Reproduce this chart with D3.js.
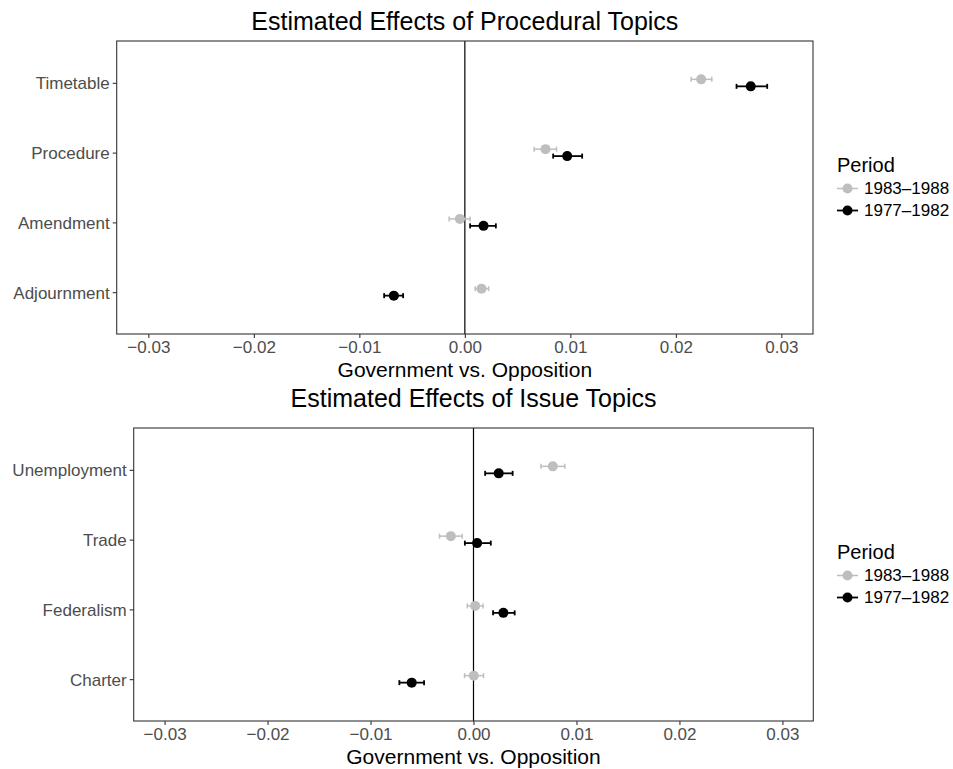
<!DOCTYPE html>
<html>
<head>
<meta charset="utf-8">
<script src="https://cdn.jsdelivr.net/npm/d3@7"></script>
<style>
  body { margin: 0; background: #fff; }
  svg { font-family: "Liberation Sans", Arial, Helvetica, sans-serif; }
</style>
</head>
<body>
<svg id="chart" width="953" height="769"></svg>
<script>
var periods = ["1983\u20131988", "1977\u20131982"];
var periodColors = ["#bebebe", "#000000"];

var procTopics = ["Timetable", "Procedure", "Amendment", "Adjournment"];
var proc1983Est = [0.0224, 0.00765, -0.00047, 0.00158];
var proc1983Lo  = [0.02145, 0.00657, -0.00149, 0.00098];
var proc1983Hi  = [0.02341, 0.00869, 0.0005, 0.00225];
var proc1977Est = [0.0271, 0.0097, 0.00177, -0.00673];
var proc1977Lo  = [0.02575, 0.00837, 0.0005, -0.00765];
var proc1977Hi  = [0.02866, 0.01112, 0.00294, -0.00585];

var issueTopics = ["Unemployment", "Trade", "Federalism", "Charter"];
var issue1983Est = [0.0077, -0.0022, 0.00016, 0.00003];
var issue1983Lo  = [0.00655, -0.0033, -0.0006, -0.00087];
var issue1983Hi  = [0.00887, -0.0011, 0.00093, 0.00097];
var issue1977Est = [0.00245, 0.00035, 0.0029, -0.006];
var issue1977Lo  = [0.00113, -0.00084, 0.0019, -0.0072];
var issue1977Hi  = [0.0038, 0.00168, 0.004, -0.0048];

var xTicks = [-0.03, -0.02, -0.01, 0, 0.01, 0.02, 0.03];
var xDomain = [-0.033, 0.033];

var svg = d3.select("#chart");

function buildRows(topics, est83, lo83, hi83, est77, lo77, hi77) {
    var rows = [];
    topics.forEach(function(t, i) {
        rows.push({ topic: t, period: 0, est: est83[i], lo: lo83[i], hi: hi83[i] });
        rows.push({ topic: t, period: 1, est: est77[i], lo: lo77[i], hi: hi77[i] });
    });
    return rows;
}

function drawPanel(opt) {
    var x = d3.scaleLinear().domain(xDomain).range([opt.left, opt.right]);
    var y = d3.scalePoint().domain(opt.topics).range([opt.top, opt.bottom]).padding(0.6);
    var dodge = y.step() * 0.05;
    var g = svg.append("g");

    // title
    g.append("text")
        .attr("x", (opt.left + opt.right) / 2)
        .attr("y", opt.titleY)
        .attr("text-anchor", "middle")
        .style("font-size", "25px")
        .attr("fill", "#000")
        .text(opt.title);

    // zero line
    g.append("line")
        .attr("x1", x(0)).attr("x2", x(0))
        .attr("y1", opt.top).attr("y2", opt.bottom)
        .attr("stroke", "#000")
        .attr("stroke-width", 1.2);

    var rows = buildRows(opt.topics, opt.e83, opt.l83, opt.h83, opt.e77, opt.l77, opt.h77);

    var mark = g.selectAll("g.mark")
        .data(rows)
        .enter()
        .append("g")
        .attr("class", "mark")
        .attr("transform", function(d) {
            return "translate(0," + (y(d.topic) + (d.period === 0 ? -dodge : dodge)) + ")";
        });

    mark.append("line")
        .attr("x1", function(d) { return x(d.lo); })
        .attr("x2", function(d) { return x(d.hi); })
        .attr("stroke", function(d) { return periodColors[d.period]; })
        .attr("stroke-width", function(d) { return d.period === 0 ? 1.5 : 1.8; });

    ["lo", "hi"].forEach(function(k) {
        mark.append("line")
            .attr("x1", function(d) { return x(d[k]); })
            .attr("x2", function(d) { return x(d[k]); })
            .attr("y1", -2.5).attr("y2", 2.5)
            .attr("stroke", function(d) { return periodColors[d.period]; })
            .attr("stroke-width", function(d) { return d.period === 0 ? 1.5 : 1.8; });
    });

    mark.append("circle")
        .attr("cx", function(d) { return x(d.est); })
        .attr("r", 5)
        .attr("fill", function(d) { return periodColors[d.period]; });

    // panel border
    g.append("rect")
        .attr("x", opt.left).attr("y", opt.top)
        .attr("width", opt.right - opt.left)
        .attr("height", opt.bottom - opt.top)
        .attr("fill", "none")
        .attr("stroke", "#333")
        .attr("stroke-width", 1.1);

    // axes
    var xAxis = g.append("g")
        .attr("transform", "translate(0," + opt.bottom + ")")
        .call(d3.axisBottom(x).tickValues(xTicks).tickFormat(d3.format(".2f")).tickSize(4).tickPadding(3));
    var yAxis = g.append("g")
        .attr("transform", "translate(" + opt.left + ",0)")
        .call(d3.axisLeft(y).tickSize(4).tickPadding(3));

    [xAxis, yAxis].forEach(function(a) {
        a.select(".domain").remove();
        a.selectAll(".tick line").attr("stroke", "#333").attr("stroke-width", 1.1);
        a.selectAll(".tick text")
            .attr("fill", "#4d4d4d")
            .style("font-size", "17px")
            .style("font-family", "'Liberation Sans', Arial, sans-serif");
    });
    xAxis.selectAll(".tick text").attr("dy", "0.71em").attr("y", 7);
    yAxis.selectAll(".tick text").attr("dy", "0.35em");

    g.append("text")
        .attr("x", (opt.left + opt.right) / 2)
        .attr("y", opt.bottom + 42.5)
        .attr("text-anchor", "middle")
        .style("font-size", "21px")
        .attr("fill", "#000")
        .text("Government vs. Opposition");

    // legend
    var leg = g.append("g").attr("transform", "translate(837," + (opt.top + 131) + ")");
    leg.append("text")
        .attr("x", 0).attr("y", 0)
        .style("font-size", "20px")
        .attr("fill", "#000")
        .text("Period");
    var item = leg.selectAll("g.item")
        .data(periods)
        .enter()
        .append("g")
        .attr("class", "item")
        .attr("transform", function(d, i) { return "translate(0," + (16.5 + i * 22) + ")"; });
    item.append("line")
        .attr("x1", 0).attr("x2", 21)
        .attr("stroke", function(d, i) { return periodColors[i]; })
        .attr("stroke-width", function(d, i) { return i === 0 ? 1.5 : 1.8; });
    item.append("circle")
        .attr("cx", 10.5)
        .attr("r", 5)
        .attr("fill", function(d, i) { return periodColors[i]; });
    item.append("text")
        .attr("x", 27)
        .attr("dy", "0.35em")
        .style("font-size", "17px")
        .attr("fill", "#000")
        .text(function(d) { return d; });
}

drawPanel({
    title: "Estimated Effects of Procedural Topics",
    titleY: 29.5,
    left: 116.7, right: 813, top: 41, bottom: 334,
    topics: procTopics,
    e83: proc1983Est, l83: proc1983Lo, h83: proc1983Hi,
    e77: proc1977Est, l77: proc1977Lo, h77: proc1977Hi
});

drawPanel({
    title: "Estimated Effects of Issue Topics",
    titleY: 406.5,
    left: 133.7, right: 813.3, top: 428, bottom: 721,
    topics: issueTopics,
    e83: issue1983Est, l83: issue1983Lo, h83: issue1983Hi,
    e77: issue1977Est, l77: issue1977Lo, h77: issue1977Hi
});
</script>
</body>
</html>
